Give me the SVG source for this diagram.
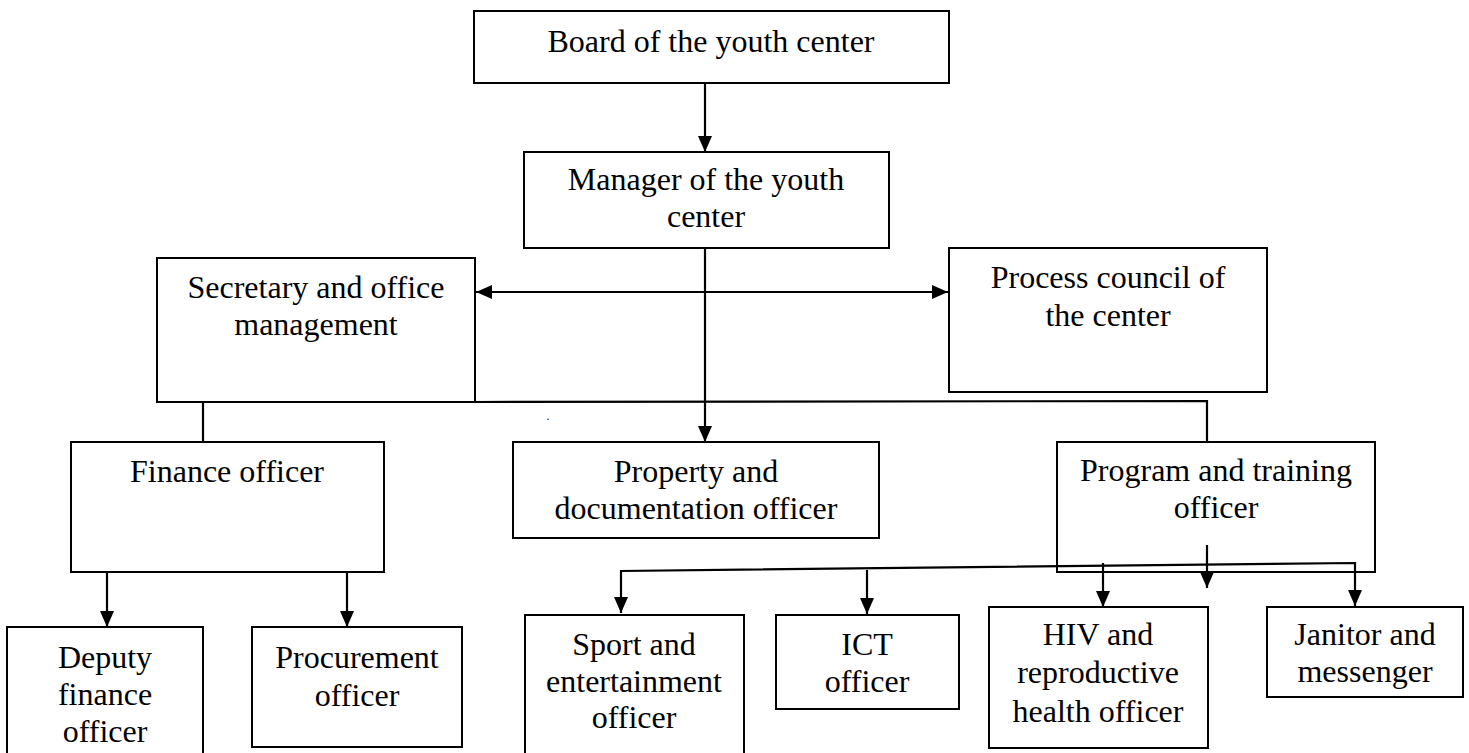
<svg xmlns="http://www.w3.org/2000/svg" width="1469" height="753" viewBox="0 0 1469 753">
<style>
.box{fill:#fff;stroke:#000;stroke-width:2}
.t{font-family:"Liberation Serif","Times New Roman",serif;font-size:32px;fill:#000;text-anchor:middle}
.c{fill:none;stroke:#000;stroke-width:2.2}
</style>
<defs>
<marker id="ah" markerUnits="userSpaceOnUse" markerWidth="17" markerHeight="15" refX="16" refY="7" orient="auto-start-reverse">
<path d="M0,0 L16,7 L0,14 Z" fill="#000"/>
</marker>
</defs>
<rect width="1469" height="753" fill="#fff"/>
<g id="board"><rect class="box" x="474" y="11" width="475" height="72"/><text class="t" x="711" y="52">Board of the youth center</text></g>
<g id="manager"><rect class="box" x="524" y="152" width="365" height="96"/><text class="t" x="706" y="190">Manager of the youth</text><text class="t" x="706" y="227">center</text></g>
<g id="secretary"><rect class="box" x="157" y="258" width="318" height="144"/><text class="t" x="316" y="298">Secretary and office</text><text class="t" x="316" y="335">management</text></g>
<g id="process"><rect class="box" x="949" y="248" width="318" height="144"/><text class="t" x="1108" y="288">Process council of</text><text class="t" x="1108" y="326">the center</text></g>
<g id="finance"><rect class="box" x="71" y="442" width="313" height="130"/><text class="t" x="227" y="482">Finance officer</text></g>
<g id="property"><rect class="box" x="513" y="442" width="366" height="96"/><text class="t" x="696" y="482">Property and</text><text class="t" x="696" y="519">documentation officer</text></g>
<g id="program"><rect class="box" x="1057" y="442" width="318" height="130"/><text class="t" x="1216" y="481">Program and training</text><text class="t" x="1216" y="518">officer</text></g>
<g id="deputy"><rect class="box" x="7" y="627" width="196" height="140"/><text class="t" x="105" y="668">Deputy</text><text class="t" x="105" y="705">finance</text><text class="t" x="105" y="742">officer</text></g>
<g id="procurement"><rect class="box" x="252" y="627" width="210" height="120"/><text class="t" x="357" y="668">Procurement</text><text class="t" x="357" y="706">officer</text></g>
<g id="sport"><rect class="box" x="525" y="615" width="219" height="150"/><text class="t" x="634" y="655">Sport and</text><text class="t" x="634" y="692">entertainment</text><text class="t" x="634" y="728">officer</text></g>
<g id="ict"><rect class="box" x="776" y="615" width="183" height="94"/><text class="t" x="867" y="655">ICT</text><text class="t" x="867" y="692">officer</text></g>
<g id="hiv"><rect class="box" x="989" y="607" width="219" height="141"/><text class="t" x="1098" y="645">HIV and</text><text class="t" x="1098" y="683">reproductive</text><text class="t" x="1098" y="722">health officer</text></g>
<g id="janitor"><rect class="box" x="1267" y="607" width="196" height="90"/><text class="t" x="1365" y="645">Janitor and</text><text class="t" x="1365" y="682">messenger</text></g>
<g id="connectors">
<line class="c" x1="705" y1="83" x2="705" y2="152" marker-end="url(#ah)"/>
<line class="c" x1="705" y1="248" x2="705" y2="442" marker-end="url(#ah)"/>
<line class="c" x1="476" y1="292" x2="948" y2="292" marker-start="url(#ah)" marker-end="url(#ah)"/>
<polyline class="c" points="475,402 1207,401 1207,442"/>
<line class="c" x1="203" y1="402" x2="203" y2="442"/>
<line class="c" x1="107" y1="572" x2="107" y2="627" marker-end="url(#ah)"/>
<line class="c" x1="347" y1="572" x2="347" y2="627" marker-end="url(#ah)"/>
<line class="c" x1="1207" y1="545" x2="1207" y2="588" marker-end="url(#ah)"/>
<polyline class="c" points="621,613 621,571 1355,563 1355,606" marker-start="url(#ah)" marker-end="url(#ah)"/>
<line class="c" x1="867" y1="570" x2="867" y2="614" marker-end="url(#ah)"/>
<line class="c" x1="1103" y1="563" x2="1103" y2="607" marker-end="url(#ah)"/>
</g>
<text x="548" y="420" style="font-family:'Liberation Serif',serif;font-size:12px;text-anchor:middle">.</text>
</svg>
